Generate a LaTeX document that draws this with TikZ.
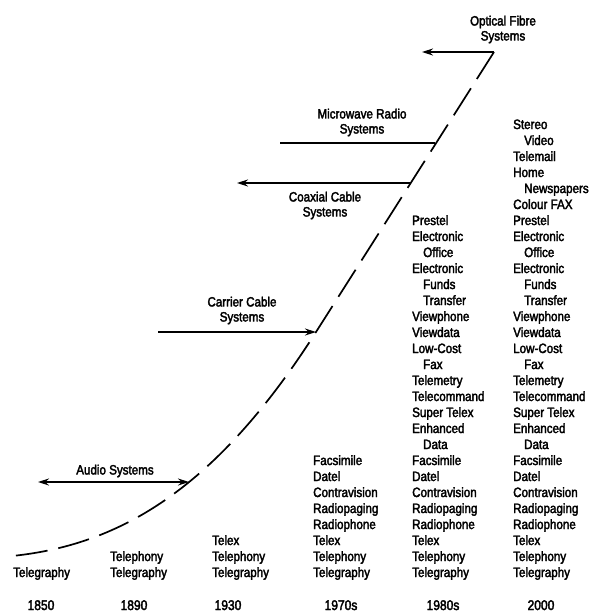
\documentclass[tikz,border=0pt]{standalone}
\usepackage{fontspec}
\setmainfont{Liberation Sans}[FakeStretch=0.86,FakeBold=2.5]
\usetikzlibrary{arrows.meta}
\newcommand{\indt}{\hspace*{11pt}}

\begin{document}
\begin{tikzpicture}[x=1pt, y=-1pt, >={Stealth[length=11pt,width=7pt]},
  col/.style={anchor=south west, inner sep=0pt, align=left, font=\fontsize{13.5}{16}\selectfont},
  lbl/.style={inner sep=0pt, align=center, font=\fontsize{13.5}{15}\selectfont},
  year/.style={anchor=base, inner sep=0pt, font=\fontsize{14}{16}\selectfont},
  trend/.style={line width=1.7pt, dash pattern=on 32pt off 11pt},
  sys/.style={line width=1.3pt}]
  \useasboundingbox (0,0) rectangle (592,616);
  % growth curve
  \coordinate (top) at (494,52);
  \coordinate (cc) at (316,332);
  \coordinate (start) at (12,556);
  \draw[trend] (top) -- (cc) .. controls (216,489) and (120,545) .. (start);
  % system lines
  \coordinate (ofL) at (422,52);
  \coordinate (mw) at (435,143); \coordinate (mwL) at (280,143);
  \coordinate (cx) at (411,183); \coordinate (cxL) at (237,183);
  \coordinate (ccL) at (158,332);
  \coordinate (au) at (189,482); \coordinate (auL) at (38,482);
  \draw[sys,->] (top) -- (ofL);
  \draw[sys] (mwL) -- (mw);
  \draw[sys,->] (cx) -- (cxL);
  \draw[sys,->] (ccL) -- (cc);
  \draw[sys,<->] (auL) -- (au);
  \node[lbl] (optical) at (503,29.5) {Optical Fibre\\Systems};
  \node[lbl] (microwave) at (362,122.5) {Microwave Radio\\Systems};
  \node[lbl] (coaxial) at (325,205.5) {Coaxial Cable\\Systems};
  \node[lbl] (carrier) at (242,310.5) {Carrier Cable\\Systems};
  \node[lbl] (audio) at (115,471) {Audio Systems};
  % services per period
  \node[col] (c1850) at (13,580) {Telegraphy};
  \node[col] (c1890) at (110,580) {Telephony\\Telegraphy};
  \node[col] (c1930) at (212,580) {Telex\\Telephony\\Telegraphy};
  \node[col] (c1970) at (313,580) {Facsimile\\Datel\\Contravision\\Radiopaging\\Radiophone\\Telex\\Telephony\\Telegraphy};
  \node[col] (c1980) at (412,580) {Prestel\\Electronic\\\indt Office\\Electronic\\\indt Funds\\\indt Transfer\\Viewphone\\Viewdata\\Low-Cost\\\indt Fax\\Telemetry\\Telecommand\\Super Telex\\Enhanced\\\indt Data\\Facsimile\\Datel\\Contravision\\Radiopaging\\Radiophone\\Telex\\Telephony\\Telegraphy};
  \node[col] (c2000) at (513,580) {Stereo\\\indt Video\\Telemail\\Home\\\indt Newspapers\\Colour FAX\\Prestel\\Electronic\\\indt Office\\Electronic\\\indt Funds\\\indt Transfer\\Viewphone\\Viewdata\\Low-Cost\\\indt Fax\\Telemetry\\Telecommand\\Super Telex\\Enhanced\\\indt Data\\Facsimile\\Datel\\Contravision\\Radiopaging\\Radiophone\\Telex\\Telephony\\Telegraphy};
  % years
  \node[year] (y1850) at (41,610) {1850};
  \node[year] (y1890) at (134,610) {1890};
  \node[year] (y1930) at (228,610) {1930};
  \node[year] (y1970) at (341,610) {1970s};
  \node[year] (y1980) at (443,610) {1980s};
  \node[year] (y2000) at (541,610) {2000};
\end{tikzpicture}
\end{document}
